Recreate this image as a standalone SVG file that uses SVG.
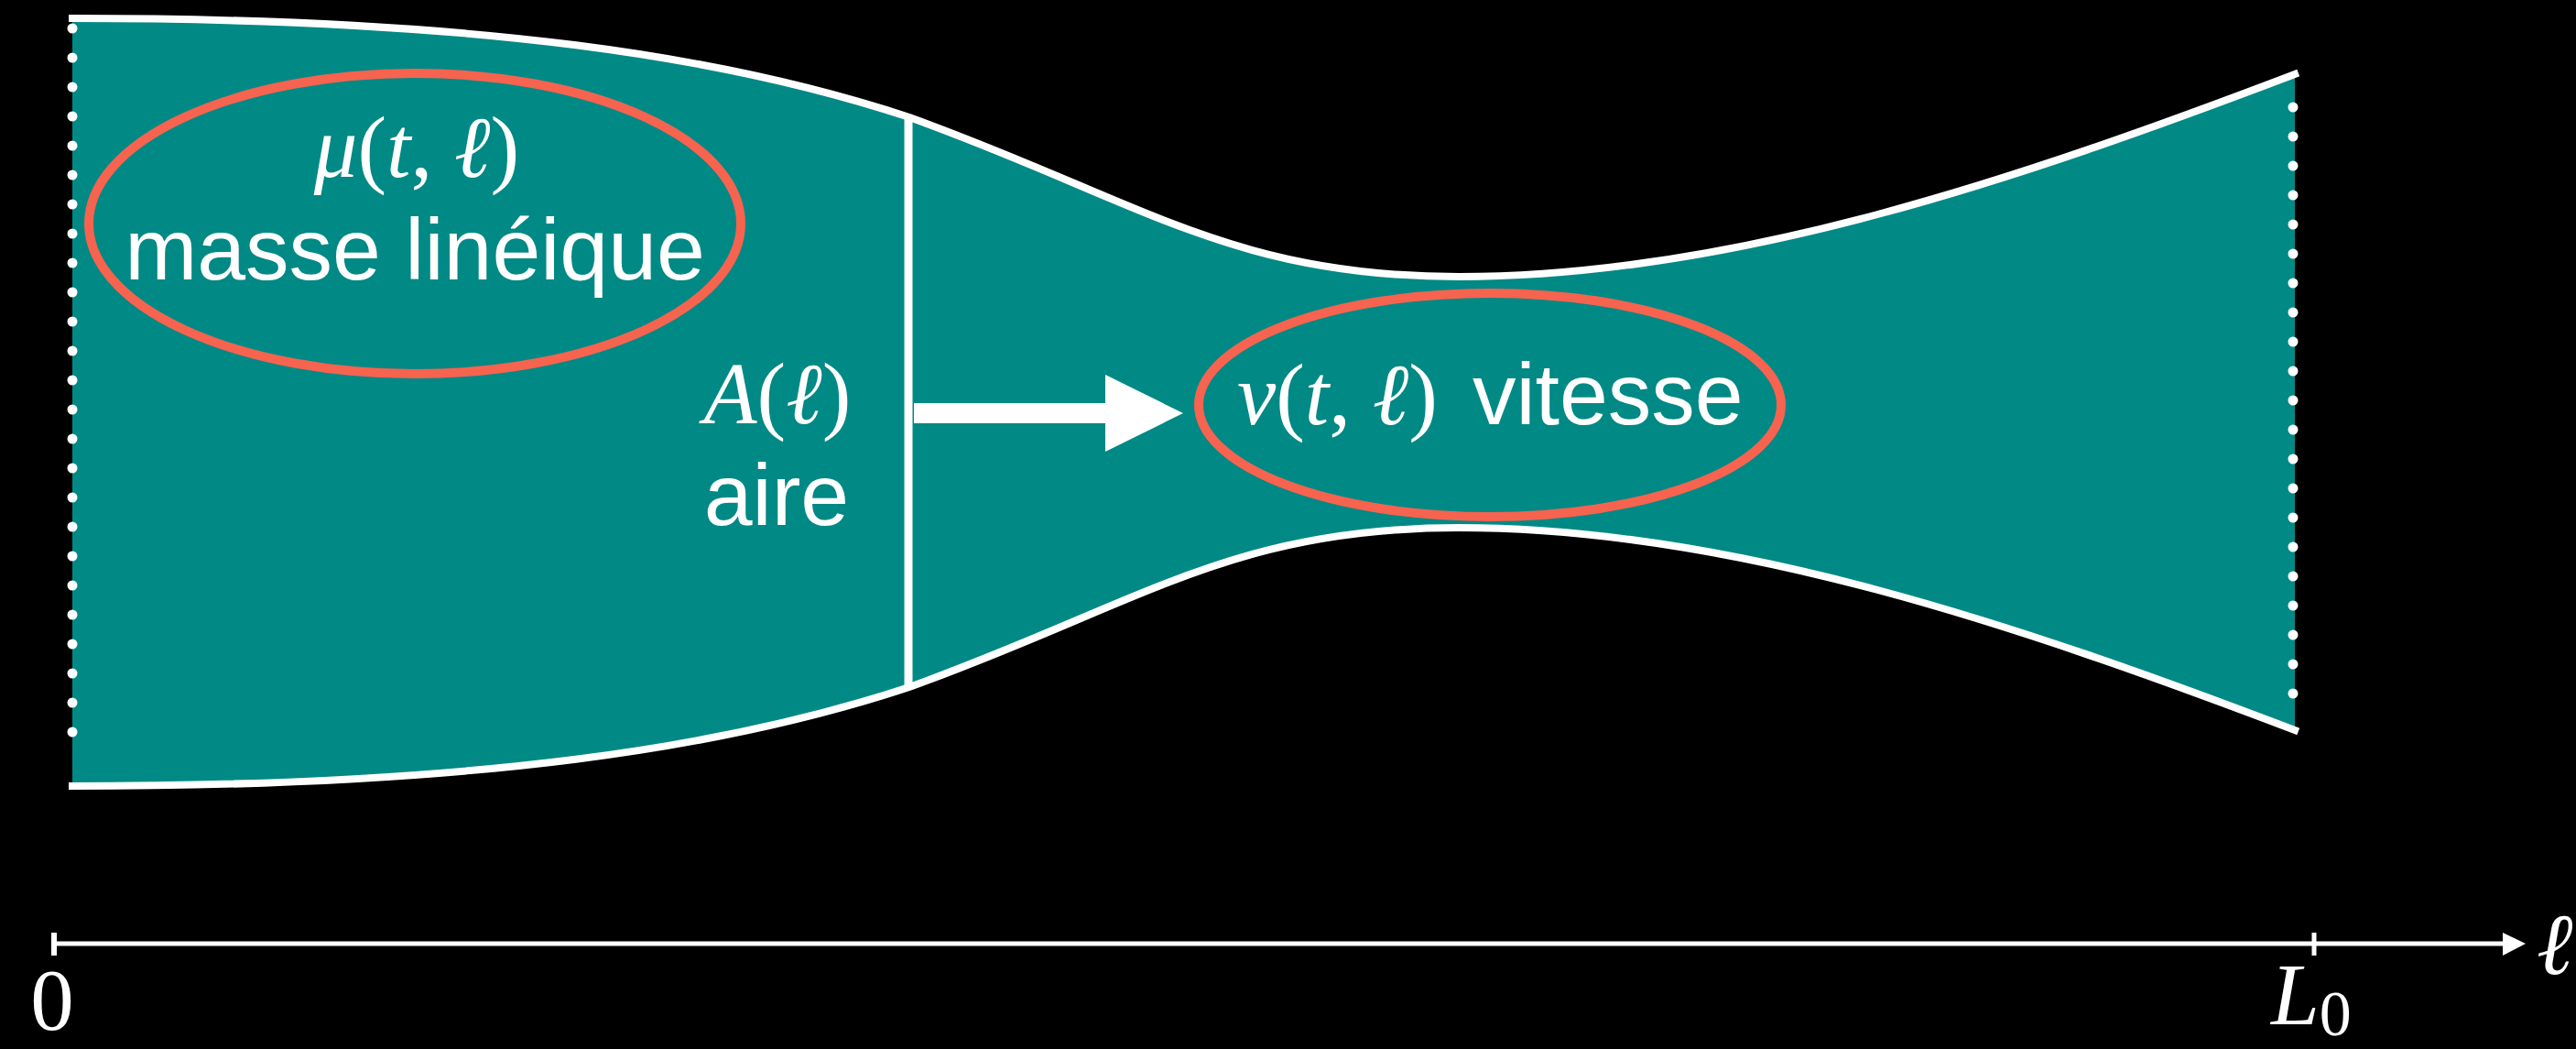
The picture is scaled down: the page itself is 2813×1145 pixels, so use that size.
<svg xmlns="http://www.w3.org/2000/svg" width="2813" height="1145" viewBox="0 0 2813 1145">
<style>
.sans{font-family:"Liberation Sans",Arial,sans-serif;font-size:95px;fill:#fff}
.math{font-family:"Liberation Serif","DejaVu Serif",serif;font-size:95px;fill:#fff}
.it{font-style:italic}
.edge{fill:none;stroke:#fff;stroke-width:8;stroke-linecap:square}
.dots{fill:none;stroke:#fff;stroke-width:11;stroke-linecap:round;stroke-dasharray:0 32}
.ring{fill:none;stroke:#F6634F;stroke-width:10}
</style>
<rect x="0" y="0" width="2813" height="1145" fill="#000"/>
<g id="tube">
<path d="M79,20 C527,20 793,62 993,128 C1243,218 1343,302 1593,302 C1893,302 2206,195 2506,81 L2506,797 C2206,683 1893,576 1593,576 C1343,576 1243,660 993,750 C793,816 527,858 79,858 Z" fill="#018985"/>
<path class="edge" d="M79,20 C527,20 793,62 993,128 C1243,218 1343,302 1593,302 C1893,302 2206,195 2506,81"/>
<path class="edge" d="M79,858 C527,858 793,816 993,750 C1243,660 1343,576 1593,576 C1893,576 2206,683 2506,797"/>
<line class="dots" x1="79" y1="31" x2="79" y2="831"/>
<line class="dots" x1="2504" y1="117" x2="2504" y2="789"/>
</g>
<g id="section">
<line x1="992" y1="128" x2="992" y2="750" stroke="#fff" stroke-width="9"/>
<text class="math" x="849" y="462" text-anchor="middle"><tspan class="it">A</tspan>(<tspan class="it">ℓ</tspan>)</text>
<text class="sans" x="848" y="573" text-anchor="middle">aire</text>
</g>
<g id="masse">
<ellipse class="ring" cx="453" cy="244" rx="356" ry="164"/>
<text class="math" x="455" y="193" text-anchor="middle"><tspan class="it">μ</tspan>(<tspan class="it">t</tspan>, <tspan class="it">ℓ</tspan>)</text>
<text class="sans" x="453" y="305" text-anchor="middle">masse linéique</text>
</g>
<g id="vitesse">
<ellipse class="ring" cx="1627" cy="442" rx="318" ry="122"/>
<text class="math" x="1351" y="463"><tspan class="it">v</tspan>(<tspan class="it">t</tspan>, <tspan class="it">ℓ</tspan>)</text>
<text class="sans" x="1608" y="463">vitesse</text>
</g>
<g id="connectors">
<polygon points="998,440 1207,440 1207,409 1292,451 1207,493 1207,462 998,462" fill="#fff"/>
<line x1="59" y1="1030" x2="2736" y2="1030" stroke="#fff" stroke-width="5"/>
<line x1="59" y1="1018" x2="59" y2="1043" stroke="#fff" stroke-width="6"/>
<line x1="2527" y1="1018" x2="2527" y2="1043" stroke="#fff" stroke-width="5"/>
<polygon points="2733,1018 2758,1030 2733,1043" fill="#fff"/>
</g>
<g id="axis-labels">
<text class="math" x="57" y="1124" text-anchor="middle">0</text>
<text class="math" x="2480" y="1118"><tspan class="it">L</tspan><tspan font-size="70" dy="12">0</tspan></text>
<text class="math it" x="2770" y="1063">ℓ</text>
</g>
</svg>
